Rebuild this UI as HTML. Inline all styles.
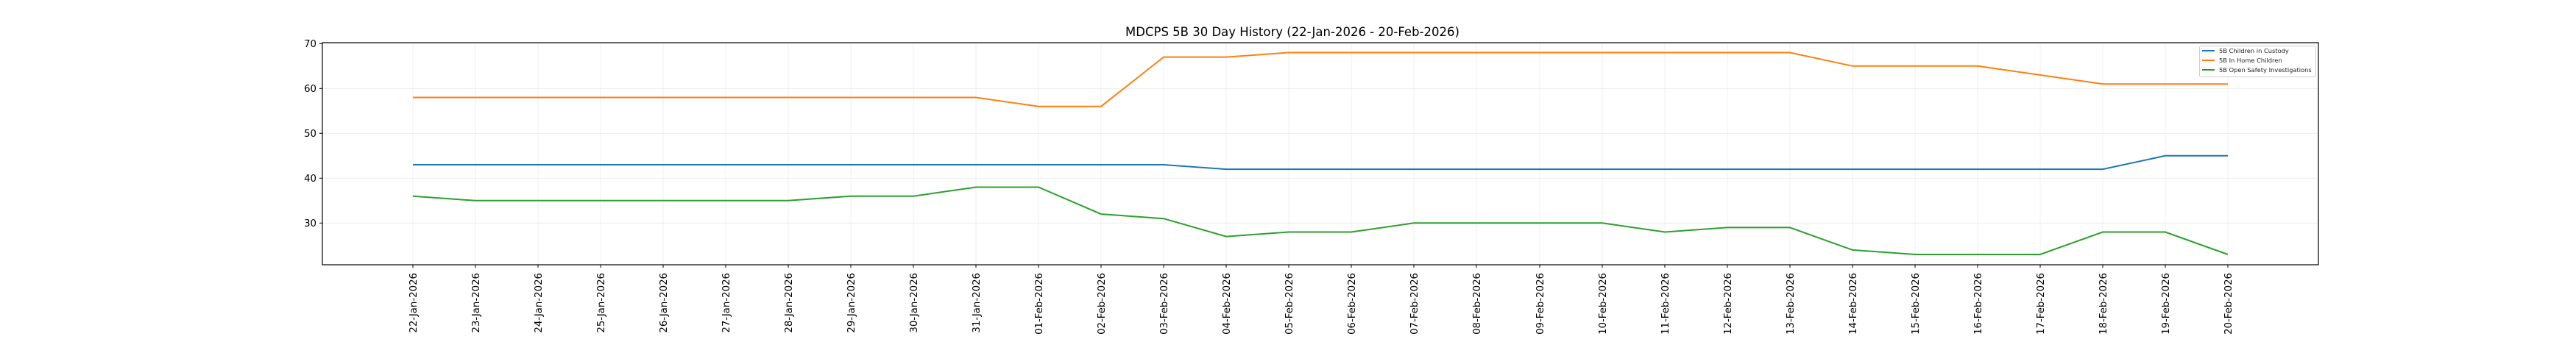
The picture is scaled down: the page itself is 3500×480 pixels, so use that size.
<!DOCTYPE html>
<html><head><meta charset="utf-8"><style>body{margin:0;background:#fff}svg{display:block}</style></head>
<body>
<svg width="3500" height="480" xmlns="http://www.w3.org/2000/svg" font-family="DejaVu Sans, Liberation Sans, sans-serif">
<rect width="3500" height="480" fill="#fff"/>
<g stroke="#ebebeb" stroke-width="0.8">
<line x1="438" x2="3150" y1="59.3" y2="59.3"/><line x1="438" x2="3150" y1="120.3" y2="120.3"/><line x1="438" x2="3150" y1="181.3" y2="181.3"/><line x1="438" x2="3150" y1="242.3" y2="242.3"/><line x1="438" x2="3150" y1="303.3" y2="303.3"/>
<line x1="561" x2="561" y1="58" y2="360"/><line x1="646" x2="646" y1="58" y2="360"/><line x1="731" x2="731" y1="58" y2="360"/><line x1="816" x2="816" y1="58" y2="360"/><line x1="901" x2="901" y1="58" y2="360"/><line x1="986" x2="986" y1="58" y2="360"/><line x1="1071" x2="1071" y1="58" y2="360"/><line x1="1156" x2="1156" y1="58" y2="360"/><line x1="1241" x2="1241" y1="58" y2="360"/><line x1="1326" x2="1326" y1="58" y2="360"/><line x1="1411" x2="1411" y1="58" y2="360"/><line x1="1496" x2="1496" y1="58" y2="360"/><line x1="1581" x2="1581" y1="58" y2="360"/><line x1="1666" x2="1666" y1="58" y2="360"/><line x1="1751" x2="1751" y1="58" y2="360"/><line x1="1836" x2="1836" y1="58" y2="360"/><line x1="1921" x2="1921" y1="58" y2="360"/><line x1="2006" x2="2006" y1="58" y2="360"/><line x1="2092" x2="2092" y1="58" y2="360"/><line x1="2177" x2="2177" y1="58" y2="360"/><line x1="2262" x2="2262" y1="58" y2="360"/><line x1="2347" x2="2347" y1="58" y2="360"/><line x1="2432" x2="2432" y1="58" y2="360"/><line x1="2517" x2="2517" y1="58" y2="360"/><line x1="2602" x2="2602" y1="58" y2="360"/><line x1="2687" x2="2687" y1="58" y2="360"/><line x1="2772" x2="2772" y1="58" y2="360"/><line x1="2857" x2="2857" y1="58" y2="360"/><line x1="2942" x2="2942" y1="58" y2="360"/><line x1="3027" x2="3027" y1="58" y2="360"/>
</g>
<g fill="none" stroke-width="2">
<polyline stroke="#1f77b4" points="561,224 646,224 731,224 816,224 901,224 986,224 1071,224 1156,224 1241,224 1326,224 1411,224 1496,224 1581,224 1666,230.1 1751,230.1 1836,230.1 1921,230.1 2006,230.1 2092,230.1 2177,230.1 2262,230.1 2347,230.1 2432,230.1 2517,230.1 2602,230.1 2687,230.1 2772,230.1 2857,230.1 2942,211.8 3027,211.8"/>
<polyline stroke="#ff7f0e" points="561,132.5 646,132.5 731,132.5 816,132.5 901,132.5 986,132.5 1071,132.5 1156,132.5 1241,132.5 1326,132.5 1411,144.7 1496,144.7 1581,77.6 1666,77.6 1751,71.5 1836,71.5 1921,71.5 2006,71.5 2092,71.5 2177,71.5 2262,71.5 2347,71.5 2432,71.5 2517,89.8 2602,89.8 2687,89.8 2772,102 2857,114.2 2942,114.2 3027,114.2"/>
<polyline stroke="#2ca02c" points="561,266.7 646,272.8 731,272.8 816,272.8 901,272.8 986,272.8 1071,272.8 1156,266.7 1241,266.7 1326,254.5 1411,254.5 1496,291.1 1581,297.2 1666,321.6 1751,315.5 1836,315.5 1921,303.3 2006,303.3 2092,303.3 2177,303.3 2262,315.5 2347,309.4 2432,309.4 2517,339.9 2602,346 2687,346 2772,346 2857,315.5 2942,315.5 3027,346"/>
</g>
<rect x="438" y="58" width="2712" height="302" fill="none" stroke="#000" stroke-width="1.2"/>
<g stroke="#000" stroke-width="1">
<line x1="434" x2="438" y1="59.3" y2="59.3"/><line x1="434" x2="438" y1="120.3" y2="120.3"/><line x1="434" x2="438" y1="181.3" y2="181.3"/><line x1="434" x2="438" y1="242.3" y2="242.3"/><line x1="434" x2="438" y1="303.3" y2="303.3"/>
</g>
<g font-size="13.3" text-anchor="end" fill="#000">
<text x="430" y="64">70</text><text x="430" y="125">60</text><text x="430" y="186">50</text><text x="430" y="247">40</text><text x="430" y="308">30</text>
</g>
<g stroke="#000" stroke-width="1">
<line x1="561" x2="561" y1="360" y2="364"/><line x1="646" x2="646" y1="360" y2="364"/><line x1="731" x2="731" y1="360" y2="364"/><line x1="816" x2="816" y1="360" y2="364"/><line x1="901" x2="901" y1="360" y2="364"/><line x1="986" x2="986" y1="360" y2="364"/><line x1="1071" x2="1071" y1="360" y2="364"/><line x1="1156" x2="1156" y1="360" y2="364"/><line x1="1241" x2="1241" y1="360" y2="364"/><line x1="1326" x2="1326" y1="360" y2="364"/><line x1="1411" x2="1411" y1="360" y2="364"/><line x1="1496" x2="1496" y1="360" y2="364"/><line x1="1581" x2="1581" y1="360" y2="364"/><line x1="1666" x2="1666" y1="360" y2="364"/><line x1="1751" x2="1751" y1="360" y2="364"/><line x1="1836" x2="1836" y1="360" y2="364"/><line x1="1921" x2="1921" y1="360" y2="364"/><line x1="2006" x2="2006" y1="360" y2="364"/><line x1="2092" x2="2092" y1="360" y2="364"/><line x1="2177" x2="2177" y1="360" y2="364"/><line x1="2262" x2="2262" y1="360" y2="364"/><line x1="2347" x2="2347" y1="360" y2="364"/><line x1="2432" x2="2432" y1="360" y2="364"/><line x1="2517" x2="2517" y1="360" y2="364"/><line x1="2602" x2="2602" y1="360" y2="364"/><line x1="2687" x2="2687" y1="360" y2="364"/><line x1="2772" x2="2772" y1="360" y2="364"/><line x1="2857" x2="2857" y1="360" y2="364"/><line x1="2942" x2="2942" y1="360" y2="364"/><line x1="3027" x2="3027" y1="360" y2="364"/>
</g>
<g font-size="13.3" text-anchor="end" fill="#000">
<text transform="translate(566,371) rotate(-90)">22-Jan-2026</text>
<text transform="translate(651,371) rotate(-90)">23-Jan-2026</text>
<text transform="translate(736,371) rotate(-90)">24-Jan-2026</text>
<text transform="translate(821,371) rotate(-90)">25-Jan-2026</text>
<text transform="translate(906,371) rotate(-90)">26-Jan-2026</text>
<text transform="translate(991,371) rotate(-90)">27-Jan-2026</text>
<text transform="translate(1076,371) rotate(-90)">28-Jan-2026</text>
<text transform="translate(1161,371) rotate(-90)">29-Jan-2026</text>
<text transform="translate(1246,371) rotate(-90)">30-Jan-2026</text>
<text transform="translate(1331,371) rotate(-90)">31-Jan-2026</text>
<text transform="translate(1416,371) rotate(-90)">01-Feb-2026</text>
<text transform="translate(1501,371) rotate(-90)">02-Feb-2026</text>
<text transform="translate(1586,371) rotate(-90)">03-Feb-2026</text>
<text transform="translate(1671,371) rotate(-90)">04-Feb-2026</text>
<text transform="translate(1756,371) rotate(-90)">05-Feb-2026</text>
<text transform="translate(1841,371) rotate(-90)">06-Feb-2026</text>
<text transform="translate(1926,371) rotate(-90)">07-Feb-2026</text>
<text transform="translate(2011,371) rotate(-90)">08-Feb-2026</text>
<text transform="translate(2097,371) rotate(-90)">09-Feb-2026</text>
<text transform="translate(2182,371) rotate(-90)">10-Feb-2026</text>
<text transform="translate(2267,371) rotate(-90)">11-Feb-2026</text>
<text transform="translate(2352,371) rotate(-90)">12-Feb-2026</text>
<text transform="translate(2437,371) rotate(-90)">13-Feb-2026</text>
<text transform="translate(2522,371) rotate(-90)">14-Feb-2026</text>
<text transform="translate(2607,371) rotate(-90)">15-Feb-2026</text>
<text transform="translate(2692,371) rotate(-90)">16-Feb-2026</text>
<text transform="translate(2777,371) rotate(-90)">17-Feb-2026</text>
<text transform="translate(2862,371) rotate(-90)">18-Feb-2026</text>
<text transform="translate(2947,371) rotate(-90)">19-Feb-2026</text>
<text transform="translate(3032,371) rotate(-90)">20-Feb-2026</text>
</g>
<text x="1756" y="49" font-size="16.5" text-anchor="middle" fill="#000">MDCPS 5B 30 Day History (22-Jan-2026 - 20-Feb-2026)</text>
<rect x="2988.5" y="62.5" width="158" height="42" rx="2" fill="#fff" fill-opacity="0.8" stroke="#d0d0d0" stroke-width="1"/>
<g stroke-width="2">
<line x1="2992" x2="3009" y1="69" y2="69" stroke="#1f77b4"/>
<line x1="2992" x2="3009" y1="82" y2="82" stroke="#ff7f0e"/>
<line x1="2992" x2="3009" y1="95" y2="95" stroke="#2ca02c"/>
</g>
<g font-size="8.3" fill="#222">
<text x="3015" y="72">5B Children in Custody</text>
<text x="3015" y="85">5B In Home Children</text>
<text x="3015" y="98">5B Open Safety Investigations</text>
</g>
</svg>
</body></html>
